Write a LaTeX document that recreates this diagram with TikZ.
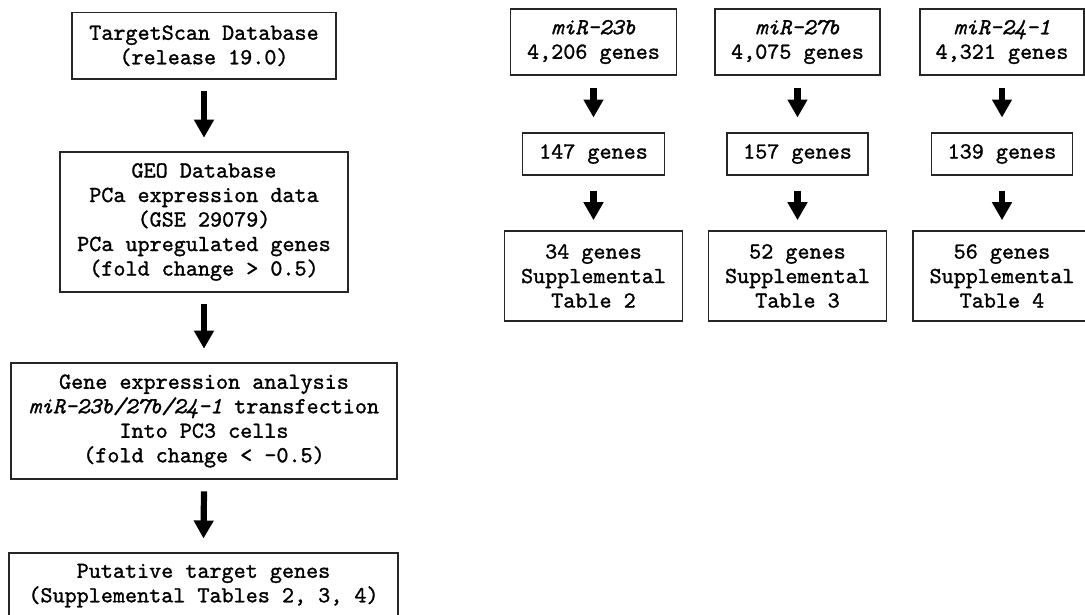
\documentclass[tikz,border=0pt]{standalone}
\usepackage{fontspec}
\newfontfamily\courfont{lmmono10-regular.otf}[ItalicFont=lmmono10-italic.otf, FakeBold=1.2]
\usetikzlibrary{arrows.meta}
\begin{document}
\begin{tikzpicture}[x=1pt,y=-1pt,
  box/.style={draw=black!85, line width=1.6pt, align=center, inner sep=0pt,
    font=\courfont\fontsize{23}{24.5}\selectfont},
  arr/.style={line width=6.2pt, -{Triangle[width=19pt,length=18pt]}}]
\useasboundingbox (0,0) rectangle (1085,614);
\clip (0,0) rectangle (1085,614);
% left column
\node[box, minimum width=264, minimum height=66.5] (ts) at (204,45.8)
  {TargetScan Database\\(release 19.0)};
\node[box, minimum width=288, minimum height=140] (geo) at (204,222)
  {GEO Database\\PCa expression data\\(GSE 29079)\\PCa upregulated genes\\(fold change > 0.5)};
\node[box, minimum width=386, minimum height=116] (gene) at (204,421)
  {Gene expression analysis\\\textit{miR-23b/27b/24-1} transfection\\Into PC3 cells\\(fold change < -0.5)};
\node[box, minimum width=389, anchor=north, inner ysep=12pt, text height=37.5pt, text depth=60pt] (put) at (203.5,552)
  {Putative target genes\\(Supplemental Tables 2, 3, 4)};
\draw[arr] ([yshift=-11.5pt]ts.south) -- ([yshift=13.5pt]geo.north);
\draw[arr] ([yshift=-11.5pt]geo.south) -- ([yshift=13.5pt]gene.north);
\draw[arr] ([yshift=-11.5pt]gene.south) -- ([yshift=13.5pt]put.north);
% right columns
\node[box, minimum width=166, minimum height=66] (a1) at (593.5,42) {\textit{miR-23b}\\4,206 genes};
\node[box, minimum width=165, minimum height=66] (b1) at (797.5,42) {\textit{miR-27b}\\4,075 genes};
\node[box, minimum width=164, minimum height=66] (c1) at (1002,42) {\textit{miR-24-1}\\4,321 genes};
\node[box, minimum width=142, minimum height=42] (a2) at (593.5,154) {147 genes};
\node[box, minimum width=141, minimum height=42] (b2) at (797.5,154) {157 genes};
\node[box, minimum width=141, minimum height=42] (c2) at (1002,154) {139 genes};
\node[box, minimum width=178, minimum height=90] (a3) at (593.5,276) {34 genes\\Supplemental\\Table 2};
\node[box, minimum width=178, minimum height=90] (b3) at (797.5,276) {52 genes\\Supplemental\\Table 3};
\node[box, minimum width=178, minimum height=90] (c3) at (1002,276) {56 genes\\Supplemental\\Table 4};
\foreach \n in {a,b,c}{
  \draw[arr] ([yshift=-11.7pt]\n1.south) -- ([yshift=14.7pt]\n2.north);
  \draw[arr] ([yshift=-15pt]\n2.south) -- ([yshift=10pt]\n3.north);
}
\end{tikzpicture}
\end{document}
